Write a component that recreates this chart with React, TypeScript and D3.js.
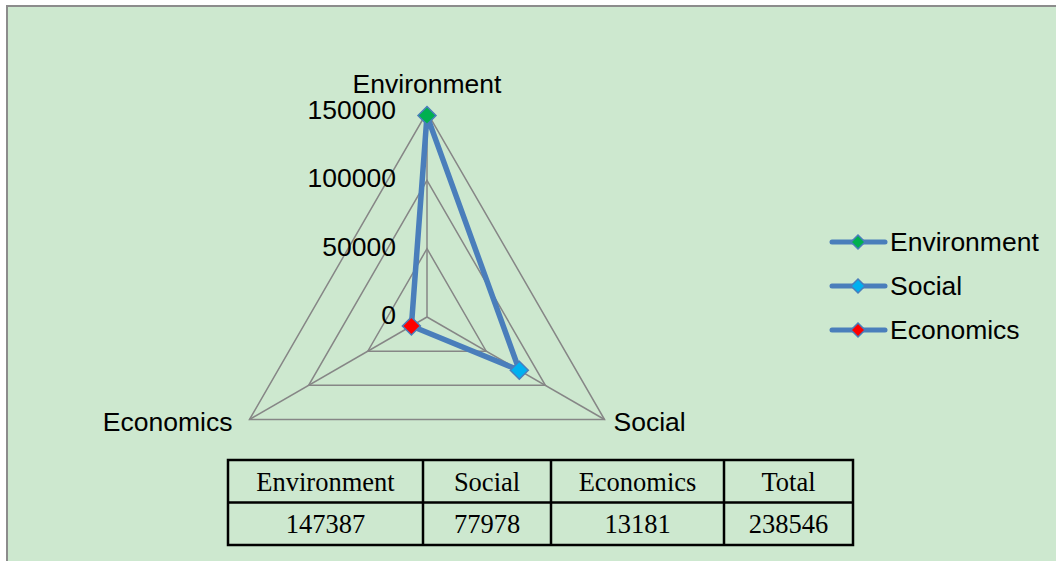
import React from "react";
import * as d3 from "d3";

// chart data
const axes = ["Environment", "Social", "Economics"];
const values = [147387, 77978, 13181];
const pointColors = ["#00B050", "#00B0F0", "#FF0000"];
const tickValues = [0, 50000, 100000, 150000];
const tableHeaders = ["Environment", "Social", "Economics", "Total"];
const tableValues = ["147387", "77978", "13181", "238546"];

const W = 1056;
const H = 561;
const BG = "#CDE8CF";
const LINE = "#4A7EBB";
const GRID = "#868686";
const SANS = "'Liberation Sans', Arial, sans-serif";
const SERIF = "'Liberation Serif', 'Times New Roman', serif";
const FS = 26.5;

export default function App() {
  const cx = 427;
  const cy = 317;
  const R = 205;
  const r = d3.scaleLinear().domain([0, 150000]).range([0, R]);
  const step = (2 * Math.PI) / axes.length;
  const a = (i: number) => i * step;
  const pt = (i: number, v: number): [number, number] => {
    const ang = a(i) - Math.PI / 2;
    return [cx + r(v) * Math.cos(ang), cy + r(v) * Math.sin(ang)];
  };

  const radial = d3
    .lineRadial<number>()
    .angle((_, i) => a(i))
    .radius((d) => r(d))
    .curve(d3.curveLinearClosed);

  const gridPaths = tickValues
    .filter((t) => t > 0)
    .map((t) => radial(axes.map(() => t)) as string);
  const seriesPath = radial(values) as string;

  const diamond = (x: number, y: number, s: number) =>
    `M${x},${y - s}L${x + s},${y}L${x},${y + s}L${x - s},${y}Z`;

  // table layout
  const tx = 228;
  const ty = 460;
  const colW = [195, 128, 173, 129];
  const rowH = 42.5;
  const colX = colW.reduce<number[]>((acc, w, i) => {
    acc.push(i === 0 ? tx : acc[i - 1] + colW[i - 1]);
    return acc;
  }, []);
  const tw = d3.sum(colW);

  const econ = pt(2, 150000);
  const soc = pt(1, 150000);

  return (
    <svg
      width={W}
      height={H}
      style={{ position: "absolute", left: 0, top: 0, display: "block" }}
    >
      <rect x={0} y={0} width={W} height={H} fill="#fff" />
      <rect
        x={7}
        y={6}
        width={W + 20}
        height={H + 20}
        fill={BG}
        stroke="#8C8C8C"
        strokeWidth={2}
      />

      <g transform={`translate(${cx},${cy})`}>
        {gridPaths.map((d, i) => (
          <path key={i} d={d} fill="none" stroke={GRID} strokeWidth={1.5} />
        ))}
        {axes.map((_, i) => {
          const [x, y] = pt(i, 150000);
          return (
            <line
              key={i}
              x1={0}
              y1={0}
              x2={x - cx}
              y2={y - cy}
              stroke={GRID}
              strokeWidth={1.5}
            />
          );
        })}
        <path
          d={seriesPath}
          fill="none"
          stroke={LINE}
          strokeWidth={5.5}
          strokeLinejoin="round"
        />
      </g>

      {values.map((v, i) => {
        const [x, y] = pt(i, v);
        return (
          <path
            key={i}
            d={diamond(x, y, 9)}
            fill={pointColors[i]}
            stroke={LINE}
            strokeWidth={1.5}
          />
        );
      })}

      {tickValues.map((t) => (
        <text
          key={t}
          x={396}
          y={cy - r(t) - 2}
          textAnchor="end"
          dominantBaseline="central"
          fontFamily={SANS}
          fontSize={FS}
          fill="#000"
        >
          {t}
        </text>
      ))}

      <text x={cx} y={93} textAnchor="middle" fontFamily={SANS} fontSize={FS}>
        {axes[0]}
      </text>
      <text
        x={soc[0] + 9}
        y={soc[1] + 2}
        textAnchor="start"
        dominantBaseline="central"
        fontFamily={SANS}
        fontSize={FS}
      >
        {axes[1]}
      </text>
      <text
        x={econ[0] - 17}
        y={econ[1] + 2}
        textAnchor="end"
        dominantBaseline="central"
        fontFamily={SANS}
        fontSize={FS}
      >
        {axes[2]}
      </text>

      {axes.map((name, i) => {
        const y = 242 + i * 44;
        return (
          <g key={name}>
            <line
              x1={832}
              x2={885}
              y1={y}
              y2={y}
              stroke={LINE}
              strokeWidth={5}
              strokeLinecap="round"
            />
            <path
              d={diamond(858, y, 7)}
              fill={pointColors[i]}
              stroke={LINE}
              strokeWidth={1.5}
            />
            <text
              x={890}
              y={y}
              dominantBaseline="central"
              fontFamily={SANS}
              fontSize={FS}
            >
              {name}
            </text>
          </g>
        );
      })}

      <g>
        <rect
          x={tx}
          y={ty}
          width={tw}
          height={rowH * 2}
          fill="none"
          stroke="#000"
          strokeWidth={2.5}
        />
        <line
          x1={tx}
          x2={tx + tw}
          y1={ty + rowH}
          y2={ty + rowH}
          stroke="#000"
          strokeWidth={2.5}
        />
        {colX.slice(1).map((x, i) => (
          <line
            key={i}
            x1={x}
            x2={x}
            y1={ty}
            y2={ty + rowH * 2}
            stroke="#000"
            strokeWidth={2.5}
          />
        ))}
        {tableHeaders.map((h, i) => (
          <text
            key={h}
            x={colX[i] + colW[i] / 2}
            y={ty + 31}
            textAnchor="middle"
            fontFamily={SERIF}
            fontSize={FS}
          >
            {h}
          </text>
        ))}
        {tableValues.map((v, i) => (
          <text
            key={i}
            x={colX[i] + colW[i] / 2}
            y={ty + 73}
            textAnchor="middle"
            fontFamily={SERIF}
            fontSize={FS}
          >
            {v}
          </text>
        ))}
      </g>
    </svg>
  );
}
